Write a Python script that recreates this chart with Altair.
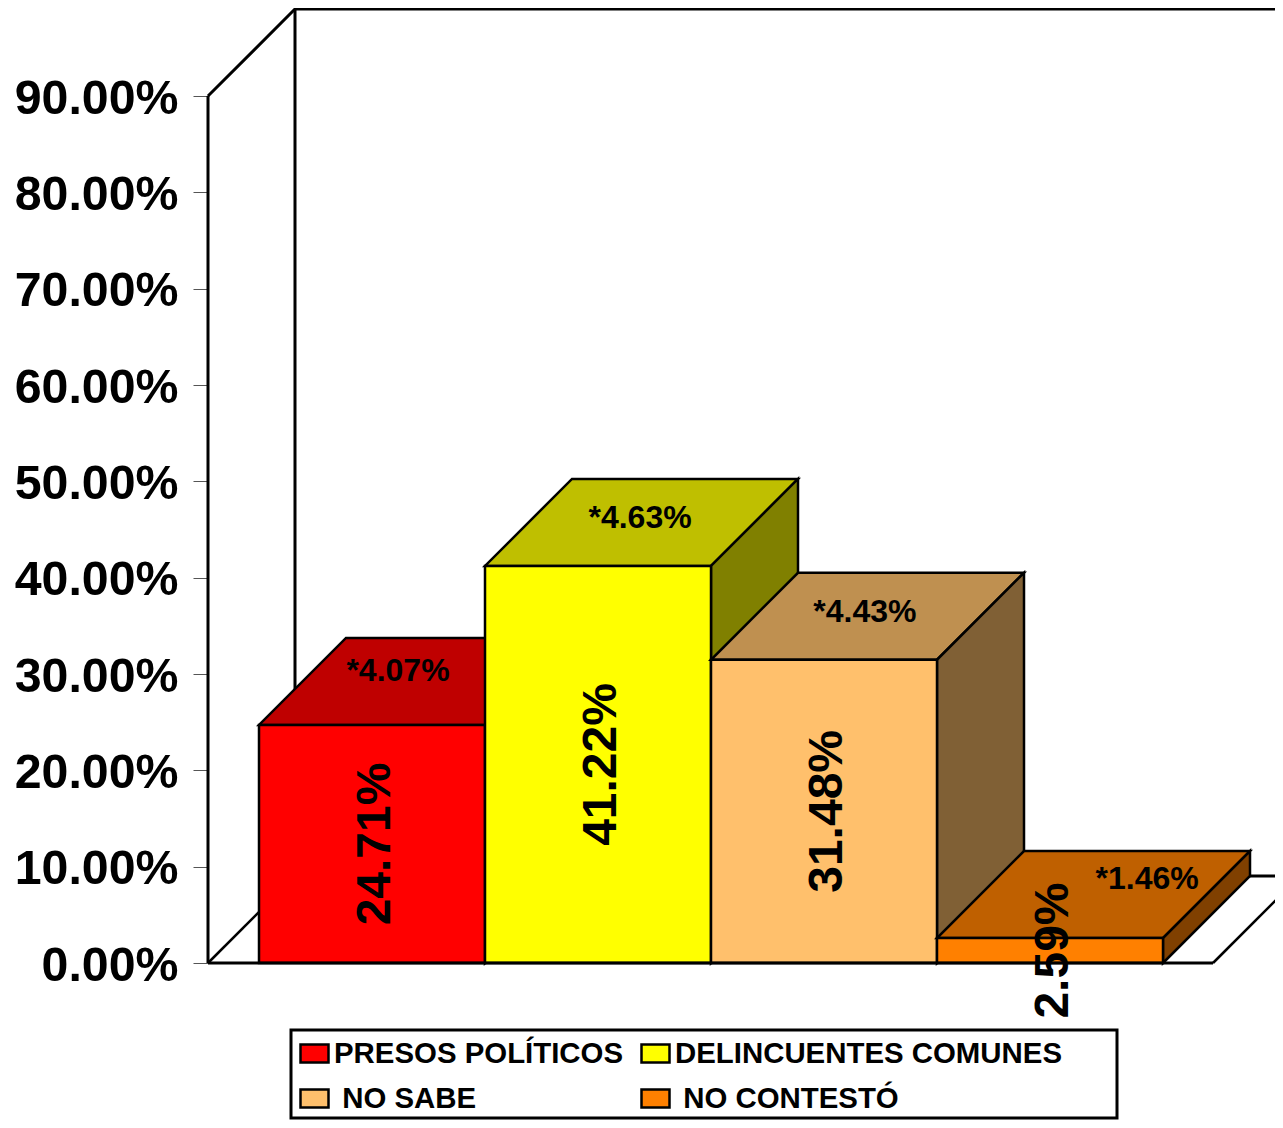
import altair as alt
import pandas as pd

categories = ["PRESOS POLÍTICOS", "DELINCUENTES COMUNES", "\u200b\u00a0NO SABE", "\u200b\u00a0NO CONTESTÓ"]
values = [24.71, 41.22, 31.48, 2.59]
errors = ["*4.07%", "*4.63%", "*4.43%", "*1.46%"]
value_labels = ["24.71%", "41.22%", "31.48%", "2.59%"]
front_colors = ["#FF0000", "#FFFF00", "#FFC06C", "#FF8000"]
top_colors = ["#BF0000", "#BFBF00", "#BF9050", "#BF6000"]
side_colors = ["#800000", "#808000", "#806035", "#804000"]
y_ticks = [0, 10, 20, 30, 40, 50, 60, 70, 80, 90]

# Layout in scale units (1 x unit = one bar width; y unit = percent)
PXX, PXY = 226.0, 9.633
GAP = 51 / PXX
FLOOR = 1005 / PXX
DX, DY = 87 / PXX, 87 / PXY
W, H = 1267, 1112
AX0, AY0 = 200, 955
X_DOM = [-AX0 / PXX, (W - AX0) / PXX]
Y_DOM = [-(H - AY0) / PXY, AY0 / PXY]
# where the small labels sit on each top face, relative to the bar's corner
err_dx = [0.615, 0.686, 0.681, 0.93]
err_dy = [5.6, 5.0, 5.0, 6.1]

xs = alt.Scale(domain=X_DOM, nice=False, zero=False)
ys = alt.Scale(domain=Y_DOM, nice=False, zero=False)
AXIS = alt.Axis(
    values=y_ticks, title=None, domain=False, grid=False, offset=-AX0,
    tickSize=15, tickColor="#555555", tickWidth=1, labelPadding=15, labelOffset=3,
    labelFont="Liberation Sans", labelFontWeight="bold", labelFontSize=48.3,
    labelColor="black", labelOverlap=False, labelFlush=False, labelBound=False,
    labelExpr="format(datum.value,'.2f')+'%'")
X = alt.X("x:Q", scale=xs, axis=None)
Y = alt.Y("y:Q", scale=ys, axis=AXIS)
Y2 = alt.Y2("y2:Q")


def face(points, fill):
    df = pd.DataFrame([{"x": a, "y": b, "y2": c} for a, b, c in points])
    return alt.Chart(df).mark_area(fill=fill, stroke="black", strokeWidth=2.5, clip=True,
                                   opacity=1).encode(x=X, y=Y, y2=Y2)


def polyline(points, width=3):
    df = pd.DataFrame([{"x": a, "y": b, "i": i} for i, (a, b) in enumerate(points)])
    return alt.Chart(df).mark_line(color="black", strokeWidth=width, clip=True).encode(
        x=X, y=Y, order="i:Q")


layers = [
    polyline([(0, 90), (0, 0)], 3),
    polyline([(0, 90), (DX, 90 + DY), (FLOOR + 2 * DX, 90 + DY)]),
    polyline([(DX, 90 + DY), (DX, DY), (FLOOR + 2 * DX, DY)]),
    polyline([(0, 0), (DX, DY)], 2.5),
    polyline([(FLOOR, 0), (FLOOR + DX, DY)], 2.5),
]

# legend box
legend_box = alt.Chart(pd.DataFrame([{
    "x": 83 / PXX, "x2": 909 / PXX, "y": -67 / PXY, "y2": -155 / PXY}])).mark_rect(
    fill="white", stroke="black", strokeWidth=3
).encode(x=X, x2="x2:Q", y=Y, y2=Y2)
layers.append(legend_box)

color_scale = alt.Scale(domain=categories, range=front_colors)
legend = alt.Legend(
    title=None, orient="none", legendX=291, legendY=1030, columns=2, padding=0,
    direction="horizontal",
    symbolType="M-1,-0.64H1V0.64H-1Z", symbolSize=784, symbolStrokeColor="black",
    symbolStrokeWidth=2.5, symbolOpacity=1, labelOffset=4, columnPadding=12, rowPadding=15,
    labelFont="Liberation Sans", labelFontWeight="bold", labelFontSize=29.4,
    labelColor="black", labelLimit=0, values=categories,
)

for i, (cat, v) in enumerate(zip(categories, values)):
    x0 = GAP + i
    x1 = x0 + 1
    layers.append(face([(x0, v, v), (x0 + DX, v, v + DY), (x1, v, v + DY), (x1 + DX, v + DY, v + DY)], top_colors[i]))
    layers.append(face([(x1, 0, v), (x1 + DX, DY, v + DY)], side_colors[i]))
    front = pd.DataFrame([{"x": x0, "y": 0, "y2": v, "c": cat}, {"x": x1, "y": 0, "y2": v, "c": cat}])
    layers.append(alt.Chart(front).mark_area(stroke="black", strokeWidth=2.5, opacity=1, clip=True).encode(
        x=X, y=Y, y2=Y2,
        color=alt.Color("c:N", scale=color_scale, legend=legend, sort=categories)))

# base line over bar bottoms
layers.append(polyline([(0, 0), (FLOOR, 0)], 3))

val_df = pd.DataFrame({
    "x": [GAP + i + 0.5 + 3.5 / PXX for i in range(4)],
    "y": [v / 2 for v in values],
    "t": value_labels,
})
layers.append(alt.Chart(val_df).mark_text(
    angle=270, align="center", baseline="middle", font="Liberation Sans",
    fontWeight="bold", fontSize=48, color="black"
).encode(x=X, y=Y, text="t:N"))

err_df = pd.DataFrame({
    "x": [GAP + i + d for i, d in enumerate(err_dx)],
    "y": [v + d for v, d in zip(values, err_dy)],
    "t": errors,
})
layers.append(alt.Chart(err_df).mark_text(
    align="center", baseline="middle", font="Liberation Sans",
    fontWeight="bold", fontSize=32, color="black"
).encode(x=X, y=Y, text="t:N"))

chart = alt.layer(*layers).properties(
    width=W, height=H, padding=0, autosize=alt.AutoSizeParams(type="none"),
).configure_view(stroke=None).configure_legend(strokeColor=None)

chart.save("out.html", embed_options={"renderer": "svg", "actions": False})
